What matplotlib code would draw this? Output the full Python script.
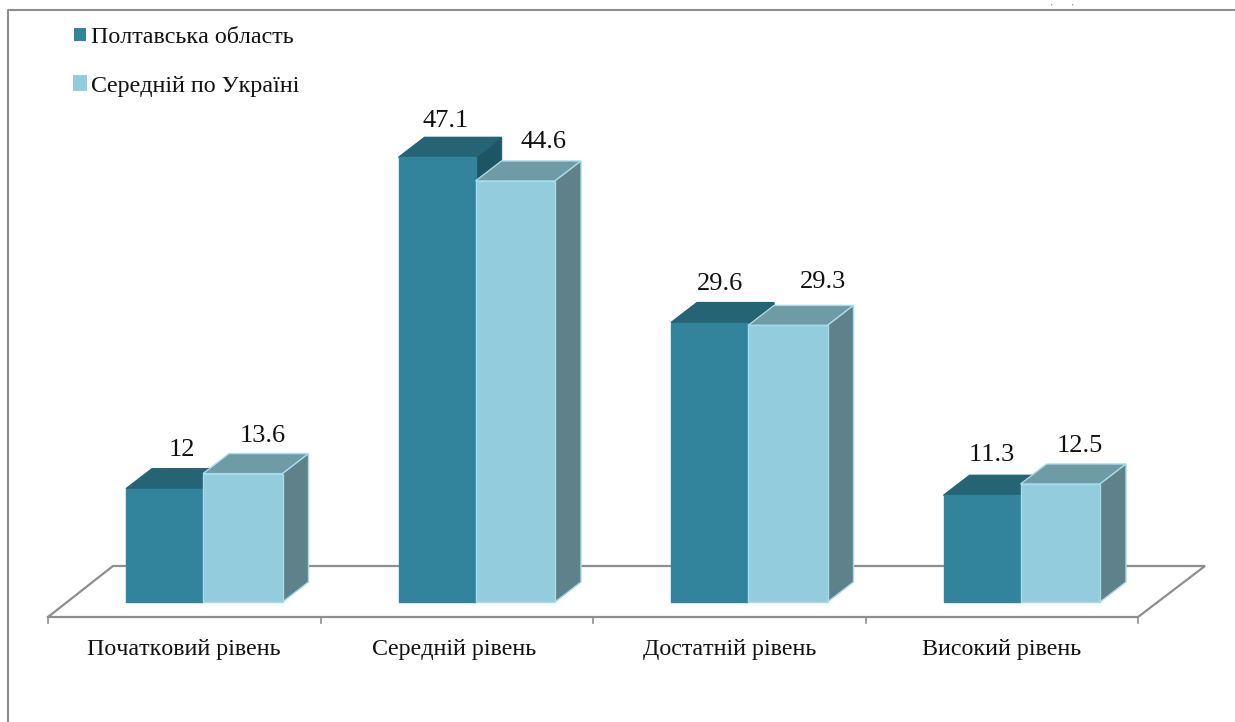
import matplotlib
matplotlib.use('Agg')
import matplotlib.pyplot as plt
from matplotlib.patches import Patch
from matplotlib.lines import Line2D

categories = ['Початковий рівень', 'Середній рівень', 'Достатній рівень', 'Високий рівень']
poltava = [12, 47.1, 29.6, 11.3]
ukraine = [13.6, 44.6, 29.3, 12.5]
series_names = ['Полтавська область', 'Середній по Україні']

W, H = 1235, 722
px_x = 272.5   # pixels per category
px_y = 9.44    # pixels per percent
x0_px = 48
y0_px = 602

# label nudges in pixels, the original labels were moved by hand
dx_pol = [17, 9, 10, 10]
dy_pol = [38.5, 36.5, 38.5, 40.5]
dx_ukr = [20, 28.5, 35, 20]
dy_ukr = [37.5, 38.5, 43.5, 38.5]
dx_cat = [0, -3, 0, 0]

plt.rcParams['font.family'] = ['Liberation Serif', 'DejaVu Serif']
plt.rcParams['text.kerning_factor'] = 6

fig = plt.figure(figsize=(W / 100, H / 100), dpi=100)
ax = fig.add_axes([0, 0, 1, 1])
ax.set_xlim(-x0_px / px_x, (W - x0_px) / px_x)
ax.set_ylim(-(H - y0_px) / px_y, y0_px / px_y)
ax.axis('off')

depth_x = 26 / px_x
depth_y = 20 / px_y
w_pol = 77 / px_x
w_ukr = 79.5 / px_x
start = 78 / px_x
floor_front = -15 / px_y
floor_back = 36 / px_y
floor_left = 65 / px_x
grey = '#8e8e8e'
n = len(categories)

# outer frame of the picture
fig.add_artist(Line2D([7.5 / W, 7.5 / W, 1], [0, 1 - 9.5 / H, 1 - 9.5 / H], color=grey, lw=1.5))

# bits of text from the page above the frame
for xp in [1052, 1073]:
    fig.text(xp / W, 1, ',', fontsize=5, color='#333333', ha='center', va='top')

# floor
ax.plot([0, floor_left, n + 67 / px_x, n, 0],
        [floor_front, floor_back, floor_back, floor_front, floor_front],
        color=grey, lw=1.6, zorder=1, solid_joinstyle='miter')
for i in range(n + 1):
    ax.plot([i, i], [floor_front, floor_front - 6 / px_y], color=grey, lw=1.2, zorder=1)


def box(x, w, v, front, top, side, edge, edge2, z):
    ax.bar(x, v, w, color=front, edgecolor=edge, lw=1, zorder=z + 2)
    l, r = x - w / 2, x + w / 2
    ax.fill([l, l + depth_x, r + depth_x, r], [v, v + depth_y, v + depth_y, v],
            facecolor=top, edgecolor=edge2, lw=1, zorder=z)
    ax.fill([r, r + depth_x, r + depth_x, r], [0, depth_y, v + depth_y, v],
            facecolor=side, edgecolor=edge2, lw=1, zorder=z + 1)


for i in range(n):
    xa = i + start + w_pol / 2
    xb = i + start + w_pol + w_ukr / 2
    box(xa, w_pol, poltava[i], '#31849b', '#246475', '#1d5565', '#31849b', '#246475', 3)
    box(xb, w_ukr, ukraine[i], '#93cddd', '#6f9ba6', '#5e818a', '#a5dcea', '#a5dcea', 6)
    ax.annotate(str(poltava[i]), (xa, poltava[i]), xytext=(dx_pol[i] * 0.72, dy_pol[i] * 0.72),
                textcoords='offset points', ha='center', va='center', fontsize=19, color='#111111', zorder=10)
    ax.annotate(str(ukraine[i]), (xb, ukraine[i]), xytext=(dx_ukr[i] * 0.72, dy_ukr[i] * 0.72),
                textcoords='offset points', ha='center', va='center', fontsize=19, color='#111111', zorder=10)
    ax.text(i + 0.5 + dx_cat[i] / px_x, floor_front - 32 / px_y, categories[i], ha='center', va='center',
            fontsize=17.3, color='#111111')

handles = [Patch(facecolor='#31849b', edgecolor='#31849b', lw=0),
           Patch(facecolor='#93cddd', edgecolor='#93cddd', lw=1.4)]
ax.legend(handles, series_names, loc='upper left', bbox_to_anchor=(74 / W, 1 - 27 / H), frameon=False,
          fontsize=17.3, handlelength=0.5, handleheight=0.5, handletextpad=0.2,
          labelspacing=1.15, borderpad=0, borderaxespad=0, labelcolor='#111111')

fig.savefig('out.png', dpi=100)
